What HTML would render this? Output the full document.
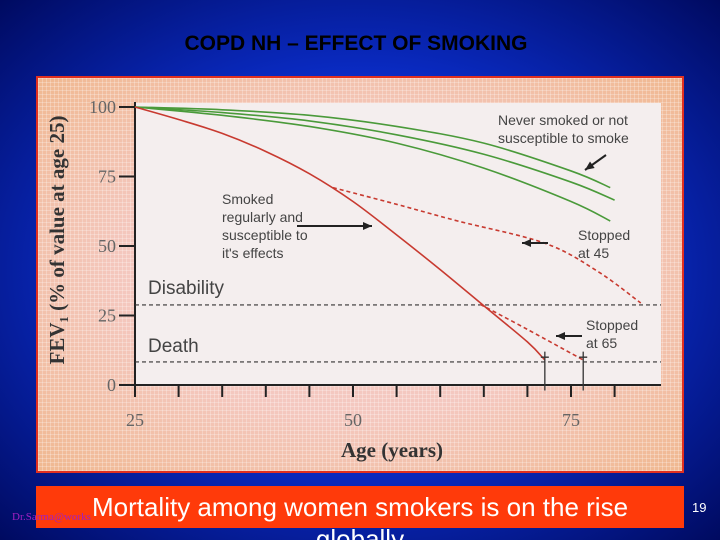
<!DOCTYPE html>
<html><head><meta charset="utf-8">
<style>
html,body{margin:0;padding:0;width:720px;height:540px;overflow:hidden}
body{position:relative;
background:radial-gradient(ellipse at 50% 50%,#1a5cff 0%,#0b2fd0 45%,#000a60 100%);font-family:"Liberation Sans",sans-serif}
#title{position:absolute;left:0;width:712px;top:32px;text-align:center;font-weight:bold;font-size:21px;color:#000}
#frame{position:absolute;left:36px;top:76px;width:644px;height:393px;border:2px solid #e03020;
background:repeating-linear-gradient(0deg,rgba(255,255,255,.25) 0 1px,transparent 1px 4px),repeating-linear-gradient(90deg,rgba(255,255,255,.25) 0 1px,transparent 1px 4px),radial-gradient(ellipse at 50% 50%,#f4c8c0 50%,#f0b890 100%)}
#band{position:absolute;left:36px;top:486px;width:648px;height:42px;background:#ff3a0a}
#cap{position:absolute;left:0;width:720px;top:490px;text-align:center;font-size:26px;color:#fff;line-height:34px}
#cap2{position:absolute;left:0;width:720px;top:522px;text-align:center;font-size:26px;color:#fff;line-height:34px}
#pg{position:absolute;left:692px;top:500px;font-size:13px;color:#fff}
#auth{position:absolute;left:12px;top:511px;font-size:11px;color:#a020c0;font-family:"Liberation Serif",serif}
svg{position:absolute;left:0;top:0}
</style></head><body>
<div id="title">COPD NH – EFFECT OF SMOKING</div>
<div id="frame"></div>
<svg width="720" height="540" id="chart"></svg>
<div id="band"></div>
<div id="cap2">globally</div>
<div id="cap">Mortality among women smokers is on the rise</div>
<div id="pg">19</div>
<div id="auth">Dr.Sarma@works</div>
<script>
const xTicks=[25,30,35,40,45,50,55,60,65,70,75,80];
const xLabels=[25,50,75];
const yLabels=[0,25,50,75,100];
const neverAges=[25,35,45,55,65,75,79.5];
const neverVals=[100,99,97,93,87,77,71];
const never2Ages=[25,35,45,55,65,75,80];
const never2Vals=[100,98,95,90,83,73,66.5];
const never3Ages=[25,35,45,55,65,75,79.5];
const never3Vals=[100,97,93,87,78,66,59];
const smokeAges=[25,30,35,40,45,50,55,60,65,70,72];
const smokeVals=[100,95.5,90.5,84,76,66,54,41.5,28.5,15.5,9];
const stop45Ages=[47.7,55,62,72,78,83];
const stop45Vals=[71,65,59,51,41,29.5];
const stop65Ages=[64.6,70,76.4];
const stop65Vals=[29,20,9];
const thresholds=[28.8,8.3];
const deathAges=[72,76.4];
const sx=a=>135+(a-25)*8.72, sy=v=>385-v*2.78;
const svg=document.getElementById('chart');const NS='http://www.w3.org/2000/svg';
function el(t,a,p){const e=document.createElementNS(NS,t);for(const k in a)e.setAttribute(k,a[k]);(p||svg).appendChild(e);return e;}
const plot=el('rect',{x:135,y:103,width:526,height:282,fill:'#f4eeee'});


const ax=el('path',{d:'M135 102V385H661',stroke:'#222','stroke-width':2,fill:'none'});


xTicks.forEach(a=>{const t=el('line',{x1:sx(a),x2:sx(a),y1:385,y2:397,stroke:'#222','stroke-width':2});

});
xLabels.forEach(a=>{const t=el('text',{x:sx(a),y:426,'text-anchor':'middle','font-size':18,fill:'#666','font-family':'Liberation Serif,serif'});t.textContent=a;

});
yLabels.forEach(v=>{const l=el('line',{x1:119,x2:135,y1:sy(v),y2:sy(v),stroke:'#222','stroke-width':2});


const t=el('text',{x:116,y:sy(v)+6,'text-anchor':'end','font-size':18,fill:'#666','font-family':'Liberation Serif,serif'});t.textContent=v;

});
const xt=el('text',{x:392,y:457,'text-anchor':'middle','font-size':21,'font-weight':'bold',fill:'#333','font-family':'Liberation Serif,serif'});xt.textContent='Age (years)';


const yt=el('text',{x:0,y:0,transform:'translate(64,240) rotate(-90)','text-anchor':'middle','font-size':21,'font-weight':'bold',fill:'#333','font-family':'Liberation Serif,serif'});yt.textContent='FEV\u2081 (% of value at age 25)';


thresholds.forEach(v=>{const l=el('line',{x1:135,x2:661,y1:sy(v),y2:sy(v),stroke:'#333','stroke-width':1.2,'stroke-dasharray':'4 3'});

});
function smooth(ax,vs){const P=ax.map((a,i)=>[sx(a),sy(vs[i])]);let d='M'+P[0][0]+' '+P[0][1];
for(let i=0;i<P.length-1;i++){const p0=P[i-1]||P[i],p1=P[i],p2=P[i+1],p3=P[i+2]||p2;
const c1=[p1[0]+(p2[0]-p0[0])/6,p1[1]+(p2[1]-p0[1])/6],c2=[p2[0]-(p3[0]-p1[0])/6,p2[1]-(p3[1]-p1[1])/6];
d+=`C${c1[0]} ${c1[1]} ${c2[0]} ${c2[1]} ${p2[0]} ${p2[1]}`;}return d;}
function line(ax,vs,col,dash,name){const p=el('path',{d:smooth(ax,vs),stroke:col,'stroke-width':1.6,fill:'none','stroke-dasharray':dash||'none'});

}
line(neverAges,neverVals,'#4a9a3a',null,'never-smoked-line-1');
line(never2Ages,never2Vals,'#4a9a3a',null,'never-smoked-line-2');
line(never3Ages,never3Vals,'#4a9a3a',null,'never-smoked-line-3');
line(smokeAges,smokeVals,'#c83a30',null,'smoker-line');
line(stop45Ages,stop45Vals,'#c83a30','4 3','stopped-45-line');
line(stop65Ages,stop65Vals,'#c83a30','4 3','stopped-65-line');
deathAges.forEach(a=>{const d=el('path',{d:`M${sx(a)} ${sy(12)}V${sy(-2)}M${sx(a)-4} ${sy(10)}H${sx(a)+4}`,stroke:'#333','stroke-width':1.3});

});
function txt(x,y,s,sz,name){const t=el('text',{x,y,'font-size':sz,fill:'#444','font-family':'Liberation Sans,sans-serif'});t.textContent=s;

}
txt(148,294,'Disability',19,'disability-label');txt(148,352,'Death',19,'death-label');
txt(498,125,'Never smoked or not',14,'never-label');txt(498,143,'susceptible to smoke',14,'never-label-2');
txt(222,204,'Smoked',14,'smoked-label');txt(222,222,'regularly and',14,'smoked-label-2');txt(222,240,'susceptible to',14,'smoked-label-3');txt(222,258,"it's effects",14,'smoked-label-4');
txt(578,240,'Stopped',14,'stop45-label');txt(578,258,'at 45',14,'stop45-label-2');
txt(586,330,'Stopped',14,'stop65-label');txt(586,348,'at 65',14,'stop65-label-2');
const ar=[[297,226,372,226],[606,155,585,170],[548,243,522,243],[582,336,556,336]];
ar.forEach(a=>{const l=el('line',{x1:a[0],y1:a[1],x2:a[2],y2:a[3],stroke:'#222','stroke-width':2});


const dx=a[2]-a[0],dy=a[3]-a[1],L=Math.hypot(dx,dy),ux=dx/L,uy=dy/L;
const h=el('polygon',{points:`${a[2]},${a[3]} ${a[2]-9*ux-4*uy},${a[3]-9*uy+4*ux} ${a[2]-9*ux+4*uy},${a[3]-9*uy-4*ux}`,fill:'#222'});

});
</script>
</body></html>
